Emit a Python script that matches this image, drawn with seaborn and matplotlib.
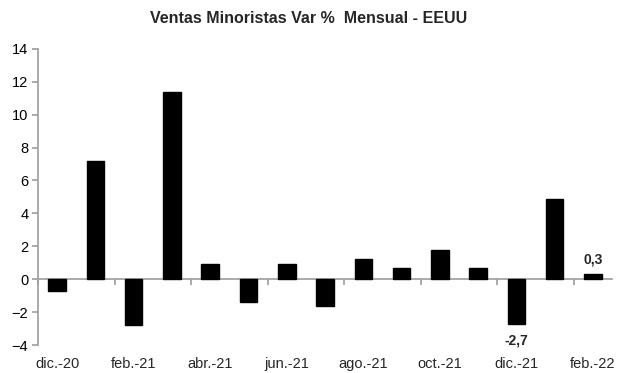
import matplotlib
matplotlib.use("Agg")
import matplotlib.pyplot as plt
import matplotlib.transforms as mtransforms
import seaborn as sns
import pandas as pd
import numpy as np

months = ["dic.-20", "ene.-21", "feb.-21", "mar.-21", "abr.-21", "may.-21", "jun.-21",
          "jul.-21", "ago.-21", "sep.-21", "oct.-21", "nov.-21", "dic.-21", "ene.-22", "feb.-22"]
values = [-0.7, 7.2, -2.8, 11.4, 0.9, -1.4, 0.9, -1.6, 1.2, 0.7, 1.8, 0.7, -2.7, 4.9, 0.3]
labeled = {"dic.-21": "-2,7", "feb.-22": "0,3"}

df = pd.DataFrame({"mes": months, "valor": values})

sns.set_theme(style="white")
plt.rcParams["font.family"] = ["Liberation Sans", "DejaVu Sans"]

fig = plt.figure(figsize=(6.17, 3.73), dpi=100)
ax = fig.add_axes([0.0616, 0.075, 0.9304, 0.794])

sns.barplot(data=df, x="mes", y="valor", color="black", width=0.46,
            saturation=1, ax=ax, edgecolor="black")

ax.set_ylim(-4, 14)
ax.set_yticks(np.arange(-4, 15, 2))
ax.set_xlim(-0.5, len(months) - 0.5)
ax.set_xlabel("")
ax.set_ylabel("")

gray = "#a0a0a0"
for s in ["top", "right"]:
    ax.spines[s].set_visible(False)
ax.spines["left"].set_color(gray)
ax.spines["bottom"].set_color(gray)
ax.spines["bottom"].set_position(("data", 0))
ax.spines["bottom"].set_zorder(0)

ax.set_xticks(np.arange(-0.5, len(months), 2))
ax.set_xticklabels([])
ax.tick_params(axis="x", direction="out", length=4, color=gray, bottom=True)
ax.tick_params(axis="y", direction="out", length=4, color=gray, left=True,
               labelsize=10.5, pad=3, labelcolor="black")

trans = mtransforms.blended_transform_factory(ax.transData, ax.transAxes)
for i, m in enumerate(months):
    if i % 2 == 0:
        ax.text(i, -0.042, m, transform=trans, ha="center", va="top", fontsize=10.5)

for i, (m, v) in enumerate(zip(months, values)):
    if m in labeled:
        if v < 0:
            ax.text(i, v - 0.6, labeled[m], ha="center", va="top", fontsize=10, fontweight="bold")
        else:
            ax.text(i, v + 0.5, labeled[m], ha="center", va="bottom", fontsize=10, fontweight="bold")

fig.suptitle("Ventas Minoristas Var %  Mensual - EEUU", x=0.5, y=0.97, fontsize=11.5,
             fontweight="bold")

fig.savefig("out.png", dpi=100, facecolor="white")
